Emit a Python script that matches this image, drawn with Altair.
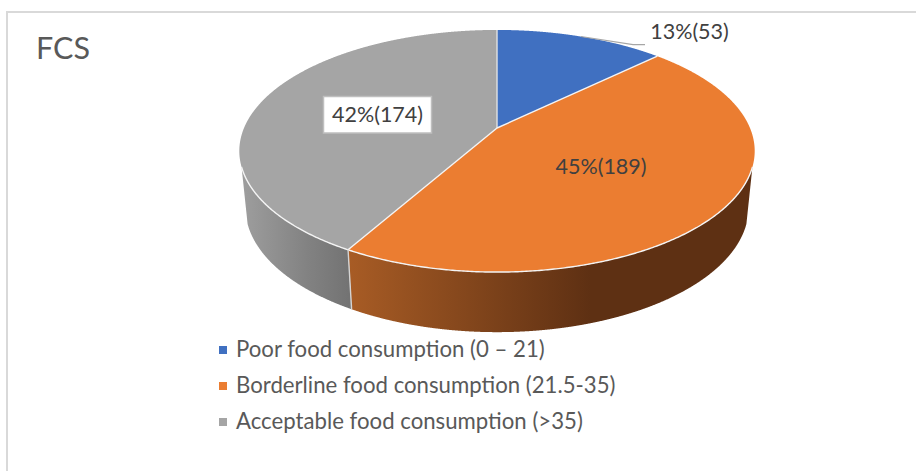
import numpy as np
import pandas as pd
import altair as alt

# Food consumption score groups
title = "FCS"
categories = [
    "Poor food consumption (0 – 21)",
    "Borderline food consumption (21.5-35)",
    "Acceptable food consumption (>35)",
]
counts = [53, 189, 174]
value_labels = ["13%(53)", "45%(189)", "42%(174)"]
colors = ["#4070C1", "#EB7D31", "#A5A5A5"]

WIDTH, HEIGHT = 916, 471
FONT = "Lato"
TEXT_GREY = "#595959"
RIM = "#F4F4F4"

# Perspective pie: the upper disc and the lower rim of the tilted cylinder
TOP = dict(cx=497.0, cy=128.0, a=116.7, b=253.0, k=0.19)
BOTTOM = dict(cx=497.0, cy=184.0, a=120.0, b=247.0, k=0.19)
# Angle (degrees clockwise from 12 o'clock) at which the wall's silhouette leaves the upper disc
SILHOUETTE = 108.3


def project(theta_deg, disc):
    """Project a point on the unit circle through the perspective of a disc."""
    t = np.radians(np.asarray(theta_deg, dtype=float))
    u, v = np.sin(t), np.cos(t)
    w = 1 + disc["k"] * v
    return disc["cx"] + disc["b"] * u / w, disc["cy"] - disc["a"] * v / w


def arc(start, end, disc):
    n = int(abs(end - start) / 0.4) + 2
    return project(np.linspace(start, end, n), disc)


def span_table(xs, ys):
    """Turn a closed outline into x / y / y2 rows for an area mark."""
    xs, ys = np.asarray(xs), np.asarray(ys)
    x0, x1 = xs, np.roll(xs, -1)
    y0, y1 = ys, np.roll(ys, -1)
    lo, hi = xs.min() + 1e-4, xs.max() - 1e-4
    grid = np.unique(np.concatenate([np.clip(xs, lo, hi), np.arange(lo, hi, 0.5), [lo, hi]]))
    rows = []
    for x in grid:
        hit = ((x0 <= x) & (x < x1)) | ((x1 <= x) & (x < x0))
        if hit.sum() < 2:
            continue
        cross = y0[hit] + (x - x0[hit]) * (y1[hit] - y0[hit]) / (x1[hit] - x0[hit])
        rows.append({"x": x, "y": cross.min(), "y2": cross.max()})
    return pd.DataFrame(rows)


total = sum(counts)
edges = np.cumsum([0] + counts) / total * 360.0

x_scale = alt.Scale(domain=[0, WIDTH], range=[0, WIDTH], nice=False, zero=False)
y_scale = alt.Scale(domain=[0, HEIGHT], range=[0, HEIGHT], nice=False, zero=False)
X = alt.X("x:Q", scale=x_scale, axis=None)
Y = alt.Y("y:Q", scale=y_scale, axis=None)


def area_layer(table, fill):
    return alt.Chart(table).mark_area(fill=fill, interpolate="linear", opacity=1).encode(
        x=X, y=Y, y2=alt.Y2("y2:Q")
    )


def wall(start, end):
    tx, ty = arc(start, end, TOP)
    bx, by = arc(end, start, BOTTOM)
    return span_table(np.r_[tx, bx], np.r_[ty, by])


def gradient(stops):
    return alt.Gradient(
        gradient="linear", x1=0, x2=1, y1=0, y2=0,
        stops=[alt.GradientStop(offset=o, color=c) for o, c in stops],
    )


layers = []

# Side walls, grey first so the orange wall sits over the seam
layers.append(area_layer(wall(edges[2], 360 - SILHOUETTE),
                         gradient([(0, "#9E9E9E"), (0.6, "#828282"), (1, "#727272")])))
layers.append(area_layer(wall(SILHOUETTE, edges[2]),
                         gradient([(0, "#A85C25"), (0.6, "#5E3013"), (1, "#5E3013")])))

# Upper disc, one sector per category
for i, color in enumerate(colors):
    rx, ry = arc(edges[i], edges[i + 1], TOP)
    layers.append(area_layer(span_table(np.r_[TOP["cx"], rx], np.r_[TOP["cy"], ry]), color))

# Pale rim and seams between the faces
segments = []


def add_segment(name, xs, ys, tint):
    for j, (px, py) in enumerate(zip(xs, ys)):
        segments.append({"seg": name, "i": j, "x": px, "y": py, "tint": tint})


rim_x, rim_y = arc(SILHOUETTE, 360 - SILHOUETTE, TOP)
add_segment("rim", rim_x, rim_y, RIM)
for i, edge in enumerate(edges[:3]):
    ex, ey = project(edge, TOP)
    add_segment(f"spoke{i}", [TOP["cx"], ex], [TOP["cy"], ey], "#E2E2E2" if i == 0 else RIM)
sx0, sy0 = project(edges[2], TOP)
sx1, sy1 = project(edges[2], BOTTOM)
add_segment("seam", [sx0, sx1], [sy0, sy1], "#D4D4D4")

layers.append(
    alt.Chart(pd.DataFrame(segments)).mark_line(strokeWidth=1.4, interpolate="linear").encode(
        x=X, y=Y, detail="seg:N", order="i:Q",
        color=alt.Color("tint:N", scale=None),
    )
)

# Leader from the rim at the middle of the smallest sector to its label
lx, ly = project((edges[0] + edges[1]) / 2, TOP)
leader = pd.DataFrame({"x": [lx, 633, 645], "y": [ly, 44.7, 44.7], "i": [0, 1, 2]})
layers.append(
    alt.Chart(leader).mark_line(color="#A6A6A6", strokeWidth=1.2).encode(x=X, y=Y, order="i:Q")
)

# White box behind the acceptable-group label
box = pd.DataFrame({"x": [323.5], "x2": [431.5], "y": [96.5], "y2": [133]})
layers.append(
    alt.Chart(box).mark_rect(fill="white", stroke="#BFBFBF", strokeWidth=1.5).encode(
        x=X, x2="x2:Q", y=Y, y2="y2:Q"
    )
)

# Value labels
label_table = pd.DataFrame({
    "x": [689.5, 601, 377.5], "y": [33, 167.5, 115.5], "text": value_labels,
})
layers.append(
    alt.Chart(label_table).mark_text(font=FONT, fontSize=21.5, color="#404040", align="center",
                                     baseline="middle").encode(x=X, y=Y, text="text:N")
)

# Legend
legend_rows = pd.DataFrame({
    "x": [223] * 3, "tx": [236] * 3, "y": [350, 386, 422],
    "text": categories, "fill": colors,
})
layers.append(
    alt.Chart(legend_rows).mark_square(size=64, opacity=1).encode(
        x=X, y=Y, color=alt.Color("fill:N", scale=None)
    )
)
layers.append(
    alt.Chart(legend_rows).mark_text(font=FONT, fontSize=22.2, color=TEXT_GREY, align="left",
                                     baseline="middle").encode(
        x=alt.X("tx:Q", scale=x_scale, axis=None), y=Y, text="text:N"
    )
)

# Title
layers.append(
    alt.Chart(pd.DataFrame({"x": [36], "y": [50], "text": [title]})).mark_text(
        font=FONT, fontSize=30.5, color=TEXT_GREY, align="left", baseline="middle"
    ).encode(x=X, y=Y, text="text:N")
)

# Chart frame: only the top and left edges are drawn
frame = pd.DataFrame({"x": [7, 7, WIDTH], "y": [HEIGHT, 12, 12], "i": [0, 1, 2]})
layers.append(
    alt.Chart(frame).mark_line(color="#D9D9D9", strokeWidth=2).encode(x=X, y=Y, order="i:Q")
)

chart = (
    alt.layer(*layers)
    .properties(width=WIDTH, height=HEIGHT, padding=0, background="white",
                autosize=alt.AutoSizeParams(type="none"))
    .configure_view(stroke=None)
)

chart.save("out.html", embed_options={"renderer": "svg", "actions": False})
